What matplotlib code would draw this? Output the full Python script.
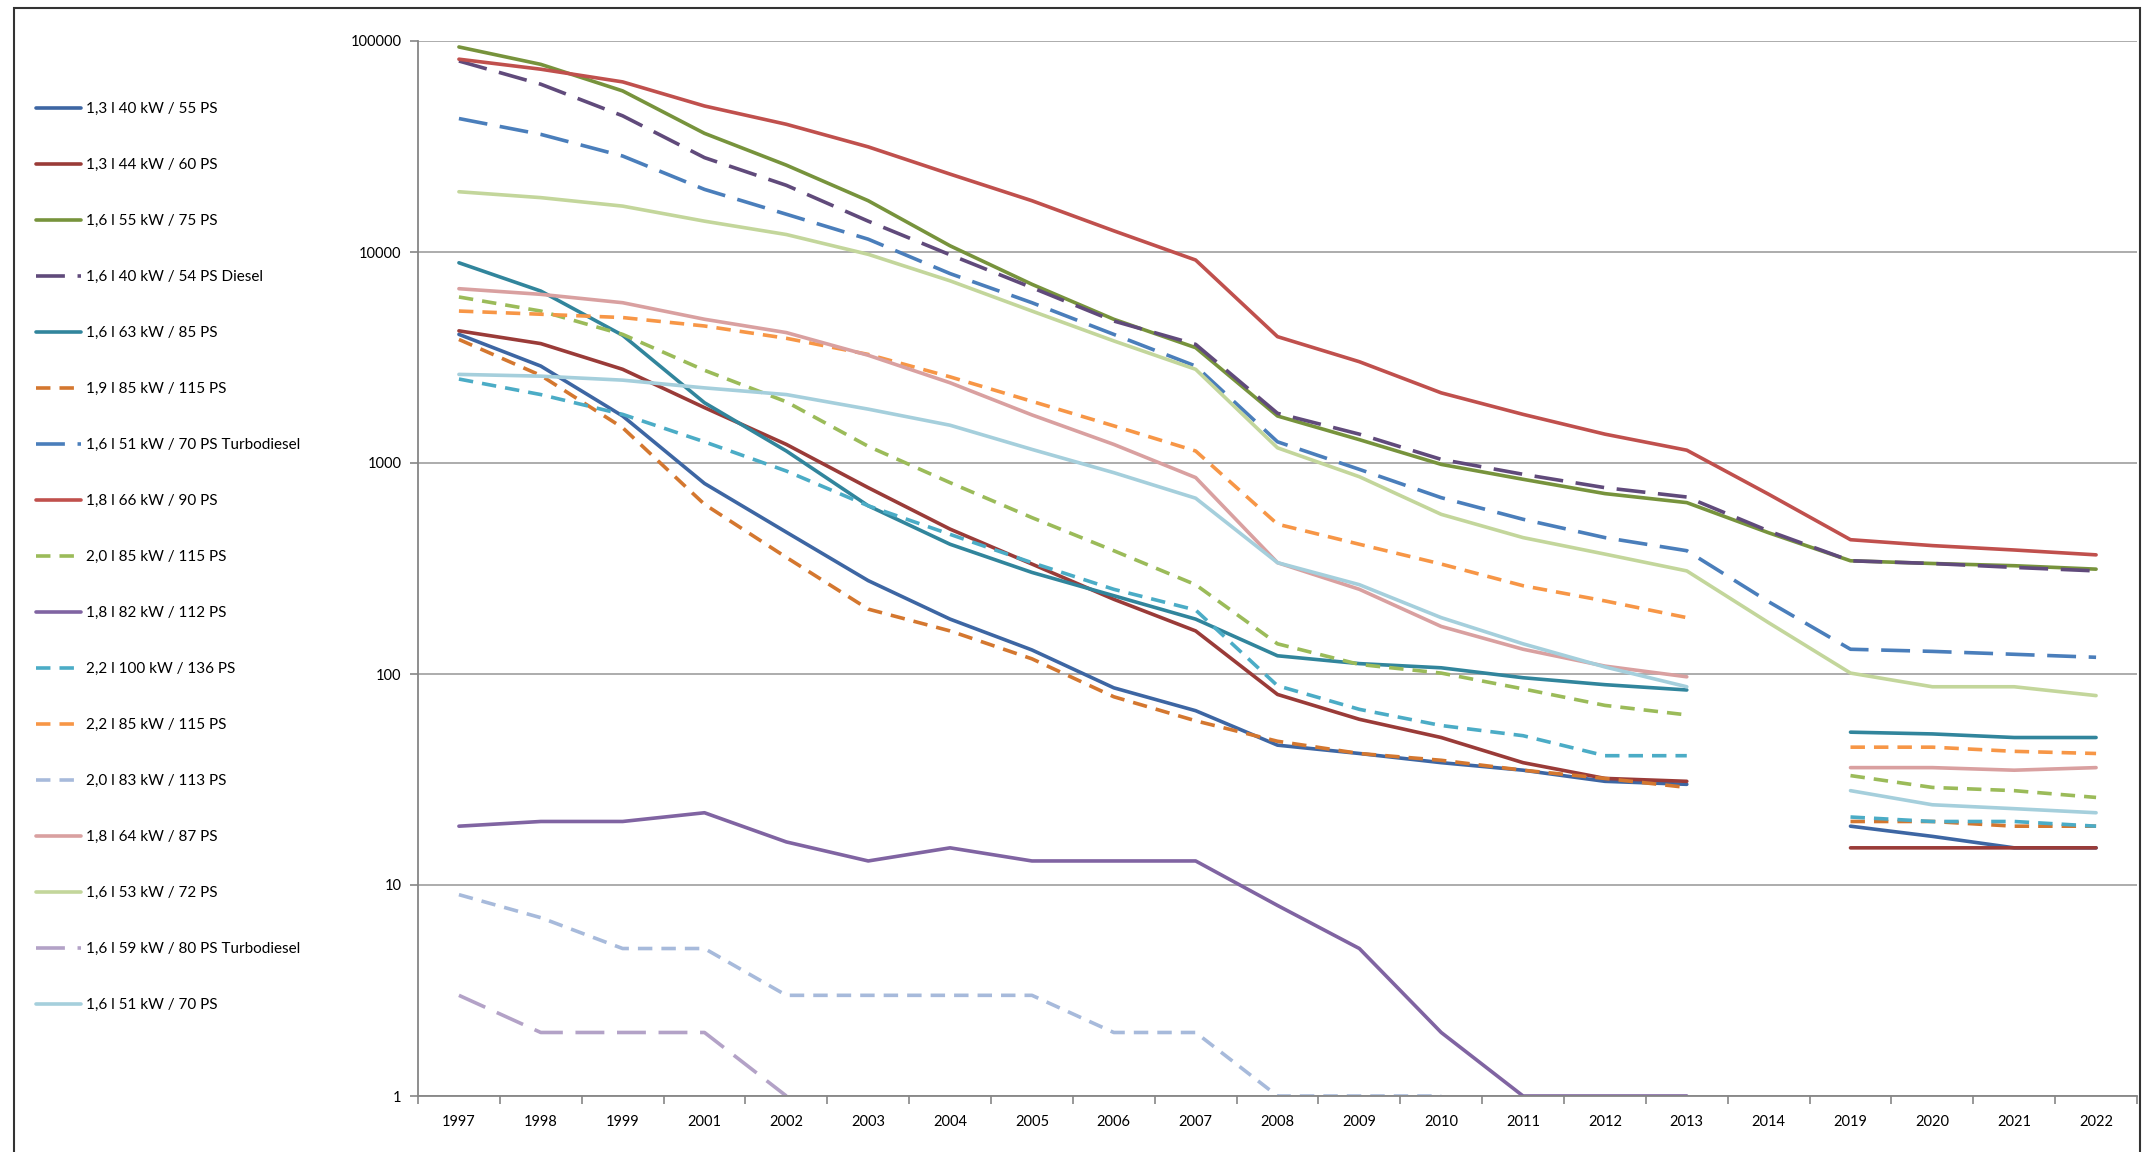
import matplotlib
matplotlib.use('Agg')
import matplotlib.pyplot as plt
import numpy as np
from matplotlib.patches import Rectangle

plt.rcParams['font.family'] = ['Lato', 'DejaVu Sans']

nan = np.nan

#### categories (x axis)
years = ['1997', '1998', '1999', '2001', '2002', '2003', '2004', '2005', '2006', '2007',
         '2008', '2009', '2010', '2011', '2012', '2013', '2014', '2019', '2020', '2021', '2022']

#### series values (nan = no value)
s_13_40 = [4070, 2880, 1670, 800, 470, 277, 182, 130, 86, 67, 46, 42, 38, 35, 31, 30, nan, 19, 17, 15, 15]
s_13_44 = [4230, 3680, 2780, 1830, 1225, 764, 486, 332, 226, 160, 80, 61, 50, 38, 32, 31, nan, 15, 15, 15, 15]
s_16_55 = [93700, 77500, 58000, 36500, 25800, 17500, 10700, 7030, 4800, 3520, 1670, 1290, 985, 837, 716, 649, 467, 344, 334, 326, 314]
s_16_40d = [80400, 62400, 44200, 28000, 20700, 14000, 9700, 6780, 4710, 3650, 1720, 1370, 1040, 884, 764, 690, 476, 344, 334, 320, 308]
s_16_63 = [8890, 6530, 4030, 1930, 1140, 627, 412, 303, 235, 182, 122, 112, 107, 96, 89, 84, nan, 53, 52, 50, 50]
s_19_85 = [3850, 2600, 1470, 637, 357, 203, 160, 118, 78, 60, 48, 42, 39, 35, 32, 29, nan, 20, 20, 19, 19]
s_16_51td = [42900, 36100, 28500, 19800, 15100, 11500, 7900, 5750, 4070, 2880, 1260, 933, 685, 541, 443, 384, 220, 131, 128, 124, 120]
s_18_66 = [82000, 73500, 64000, 49200, 40300, 31500, 23400, 17500, 12600, 9160, 3970, 3020, 2150, 1700, 1370, 1150, 711, 433, 406, 387, 367]
s_20_85 = [6120, 5250, 4070, 2750, 1950, 1200, 807, 551, 384, 265, 139, 111, 101, 85, 71, 64, nan, 33, 29, 28, 26]
s_18_82 = [19, 20, 20, 22, 16, 13, 15, 13, 13, 13, 8, 5, 2, 1, 1, 1, nan, nan, nan, nan, nan]
s_22_100 = [2500, 2110, 1700, 1260, 916, 627, 459, 337, 252, 201, 88, 68, 57, 51, 41, 41, nan, 21, 20, 20, 19]
s_22_85 = [5250, 5070, 4890, 4460, 3900, 3270, 2560, 1960, 1500, 1140, 513, 412, 332, 262, 222, 185, nan, 45, 45, 43, 42]
s_20_83 = [9, 7, 5, 5, 3, 3, 3, 3, 2, 2, 1, 1, 1, nan, nan, nan, nan, nan, nan, nan, nan]
s_18_64 = [6700, 6300, 5750, 4800, 4150, 3240, 2400, 1690, 1225, 853, 337, 252, 168, 131, 109, 97, nan, 36, 36, 35, 36]
s_16_53 = [19300, 18100, 16500, 14000, 12100, 9750, 7300, 5250, 3790, 2780, 1180, 861, 571, 443, 370, 308, 175, 101, 87, 87, 79]
s_16_59td = [3, 2, 2, 2, 1, nan, nan, nan, nan, nan, nan, nan, nan, nan, nan, nan, nan, nan, nan, nan, nan]
s_16_51 = [2630, 2580, 2470, 2270, 2110, 1800, 1510, 1160, 900, 681, 337, 265, 185, 139, 108, 87, nan, 28, 24, 23, 22]

labels = ['1,3 l 40 kW / 55 PS', '1,3 l 44 kW / 60 PS', '1,6 l 55 kW / 75 PS',
          '1,6 l 40 kW / 54 PS Diesel', '1,6 l 63 kW / 85 PS', '1,9 l 85 kW / 115 PS',
          '1,6 l 51 kW / 70 PS Turbodiesel', '1,8 l 66 kW / 90 PS', '2,0 l 85 kW / 115 PS',
          '1,8 l 82 kW / 112 PS', '2,2 l 100 kW / 136 PS', '2,2 l 85 kW / 115 PS',
          '2,0 l 83 kW / 113 PS', '1,8 l 64 kW / 87 PS', '1,6 l 53 kW / 72 PS',
          '1,6 l 59 kW / 80 PS Turbodiesel', '1,6 l 51 kW / 70 PS']
series = [s_13_40, s_13_44, s_16_55, s_16_40d, s_16_63, s_19_85, s_16_51td, s_18_66, s_20_85,
          s_18_82, s_22_100, s_22_85, s_20_83, s_18_64, s_16_53, s_16_59td, s_16_51]

## styles
colors = ['#3D66A3', '#9A3B38', '#77933C', '#604A7B', '#31859C', '#D4772F', '#4A7EBB', '#C0504D',
          '#9BBB59', '#8064A2', '#4BACC6', '#F79646', '#A7BADB', '#D9A0A0', '#C3D69B', '#B3A2C7', '#A5CFDC']
SOLID = None
SHORT = (4, 2.5)
LONG = (8, 3.5)
dashes = [SOLID, SOLID, SOLID, LONG, SOLID, SHORT, LONG, SOLID, SHORT,
          SOLID, SHORT, SHORT, SHORT, SOLID, SOLID, LONG, SOLID]

W, H = 2148, 1152
fig = plt.figure(figsize=(W / 100, H / 100), dpi=100)
ax = fig.add_axes([418 / W, 1 - 1096 / H, (2137 - 418) / W, (1096 - 41) / H])

x = np.arange(len(years))
handles = []
for vals, lab, col, d in zip(series, labels, colors, dashes):
    ln, = ax.plot(x, np.array(vals, dtype=float), color=col, lw=2.6, label=lab,
                  solid_capstyle='round', solid_joinstyle='round')
    if d is not None:
        ln.set_dashes(d)
    handles.append(ln)

ax.set_yscale('log')
ax.set_ylim(1, 100000)
ax.set_xlim(-0.5, len(years) - 0.5)
yt = [1, 10, 100, 1000, 10000, 100000]
ax.set_yticks(yt)
ax.set_yticklabels([str(v) for v in yt])
ax.minorticks_off()
ax.set_xticks(x)
ax.set_xticklabels(years)
ax.set_xticks(np.arange(-0.5, len(years)), minor=True)
ax.tick_params(axis='x', which='major', length=0, pad=14, labelsize=10.5)
ax.tick_params(axis='x', which='minor', length=6, width=1.2, color='#868686', direction='out')
ax.tick_params(axis='y', which='major', length=6, width=1.2, color='#868686', pad=6, labelsize=10.5)
ax.yaxis.grid(True, color='#A6A6A6', lw=1.3)
ax.set_axisbelow(True)
for side in ['top', 'right']:
    ax.spines[side].set_visible(False)
for side in ['left', 'bottom']:
    ax.spines[side].set_color('#868686')
    ax.spines[side].set_linewidth(1.3)

## legend on the left
fig.legend(handles, labels, loc='upper left', bbox_to_anchor=(36 / W, 1 - 102 / H),
           frameon=False, fontsize=11, handlelength=2.95, handletextpad=0.33,
           labelspacing=2.75, borderpad=0, borderaxespad=0)

## outer frame of the chart
fig.patches.append(Rectangle((14 / W, -0.02), (2140 - 14) / W, 1.02 - 8 / H, transform=fig.transFigure,
                             fill=False, edgecolor='#333333', lw=1.5))

plt.savefig('out.png', dpi=100)
